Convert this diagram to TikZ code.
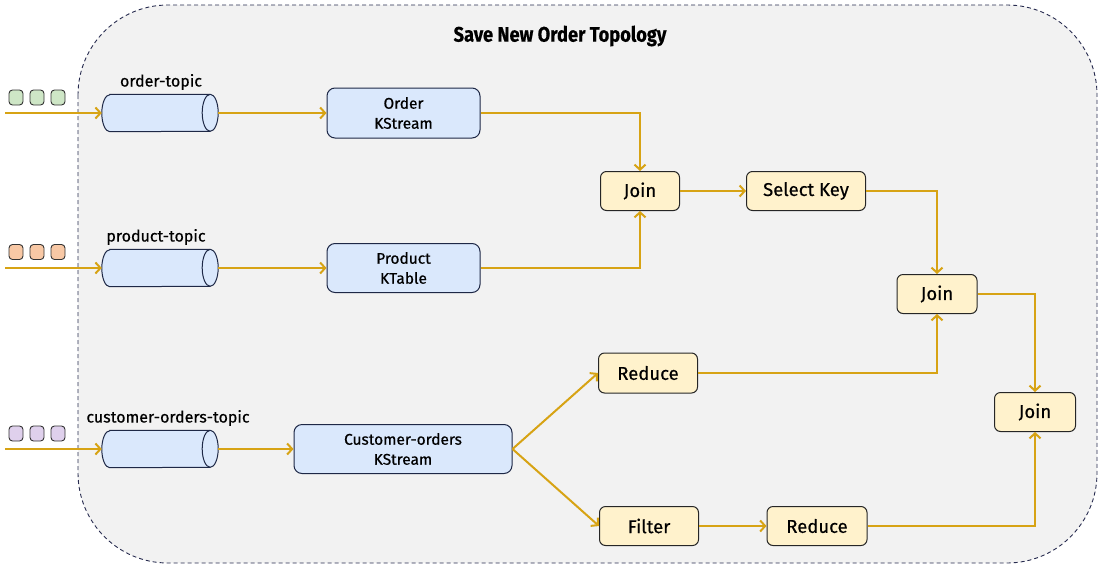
\documentclass[tikz,border=0pt]{standalone}
\usepackage{fontspec}
\setmainfont{Fira Sans}[FakeBold=0.5]
\usetikzlibrary{arrows.meta}

\definecolor{flowc}{RGB}{215,163,20}
\definecolor{bgc}{RGB}{242,242,242}
\definecolor{framec}{RGB}{40,44,80}
\definecolor{bluef}{RGB}{218,232,252}
\definecolor{blued}{RGB}{30,40,70}
\definecolor{yellf}{RGB}{255,242,204}
\definecolor{greenf}{RGB}{206,230,198}
\definecolor{peachf}{RGB}{248,200,165}
\definecolor{purplef}{RGB}{223,208,236}

\tikzset{
  flow/.style={draw=flowc, line width=2pt, -{Straight Barb[length=5pt,width=11pt]}},
  topic/.style={inner sep=0pt, minimum width=116pt, minimum height=37pt},
  tube/.style={draw=blued, fill=bluef, line width=1pt},
  stream/.style={draw=blued, fill=bluef, line width=1pt, rounded corners=8pt,
    inner sep=0pt, minimum height=49pt, align=center, font=\fontsize{15.5}{20}\selectfont},
  op/.style={draw=black!85, fill=yellf, line width=1pt, rounded corners=6pt,
    inner sep=0pt, minimum height=39pt, font=\fontsize{18.5}{20}\selectfont},
  msg/.style={draw=black!80, line width=0.9pt, rounded corners=3.5pt,
    minimum width=14pt, minimum height=15pt, inner sep=0pt},
  lbl/.style={font=\fontsize{16}{18}\selectfont}
}

\begin{document}
\begin{tikzpicture}[x=1pt,y=-1pt]
	\useasboundingbox (0,0) rectangle (1099,568);
	\draw[fill=bgc, draw=framec, line width=0.9pt, dash pattern=on 4pt off 3pt, rounded corners=90pt]
		(78,5) rectangle (1097,563);
	\node[font=\bfseries\fontsize{21}{22}\selectfont, xscale=0.87, transform shape] (title) at (560,36) {Save New Order Topology};

	% incoming messages
	\foreach \x in {16,37,58} {
		\node[msg, fill=greenf] at (\x,97.5) {};
		\node[msg, fill=peachf] at (\x,252) {};
		\node[msg, fill=purplef] at (\x,433.5) {};
	}
	\coordinate (in1) at (5,113);
	\coordinate (in2) at (5,268);
	\coordinate (in3) at (5,449);

	% topics
	\node[topic] (ot) at (160,113) {};
	\node[topic] (pt) at (160,268) {};
	\node[topic] (ct) at (160,449) {};
	\foreach \n in {ot,pt,ct} {
		\draw[tube] ([xshift=8pt]\n.north west) -- ([xshift=-8pt]\n.north east)
			arc[start angle=90, end angle=-90, x radius=8pt, y radius=18.5pt]
			-- ([xshift=8pt]\n.south west)
			arc[start angle=270, end angle=90, x radius=8pt, y radius=18.5pt] -- cycle;
		\draw[tube, fill=none] ([xshift=-8pt]\n.north east)
			arc[start angle=90, end angle=270, x radius=8pt, y radius=18.5pt];
	}
	\node[lbl] (otl) at (161,82) {order-topic};
	\node[lbl] (ptl) at (156,237) {product-topic};
	\node[lbl] (ctl) at (168,418) {customer-orders-topic};

	% streams and tables
	\node[stream, minimum width=153pt, minimum height=50pt] (ok) at (403.5,113) {Order\\KStream};
	\node[stream, minimum width=153pt] (pk) at (403.5,268) {Product\\KTable};
	\node[stream, minimum width=218pt] (ck) at (403,449) {Customer-orders\\KStream};

	% operations
	\node[op, minimum width=79pt] (j1) at (640,191) {Join};
	\node[op, minimum width=119pt] (sk) at (806,191) {Select Key};
	\node[op, minimum width=80pt] (j2) at (937,294) {Join};
	\node[op, minimum width=81pt] (j3) at (1035,412) {Join};
	\node[op, minimum width=99pt, minimum height=40pt] (r1) at (648,373) {Reduce};
	\node[op, minimum width=99pt] (fl) at (649,526) {Filter};
	\node[op, minimum width=100pt] (r2) at (817,526) {Reduce};

	% connectors
	\draw[flow] (in1) -- (ot.west);
	\draw[flow] (in2) -- (pt.west);
	\draw[flow] (in3) -- (ct.west);
	\draw[flow] (ot.east) -- (ok.west);
	\draw[flow] (pt.east) -- (pk.west);
	\draw[flow] (ct.east) -- (ck.west);
	\draw[flow] (ok.east) -| (j1.north);
	\draw[flow] (pk.east) -| (j1.south);
	\draw[flow] (j1) -- (sk);
	\draw[flow] (sk.east) -| (j2.north);
	\draw[flow] (ck.east) -- (r1.west);
	\draw[flow] (ck.east) -- (fl.west);
	\draw[flow] (r1.east) -| (j2.south);
	\draw[flow] (fl) -- (r2);
	\draw[flow] (j2.east) -| (j3.north);
	\draw[flow] (r2.east) -| (j3.south);
\end{tikzpicture}
\end{document}
